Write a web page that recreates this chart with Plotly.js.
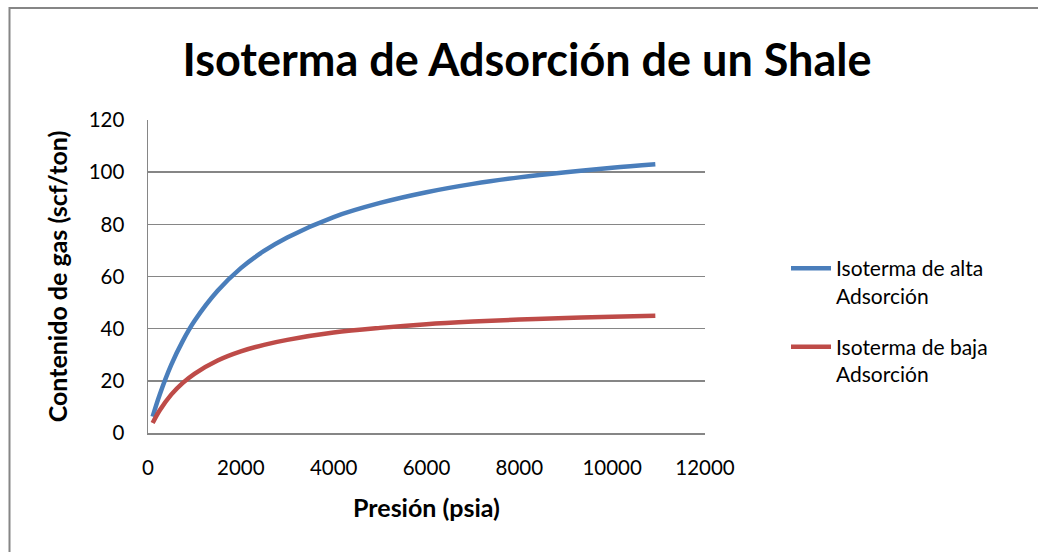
<!DOCTYPE html>
<html>
<head>
<meta charset="utf-8">
<script src="https://cdn.plot.ly/plotly-3.0.1.min.js"></script>
<style>
html,body{margin:0;padding:0;background:#fff;}
#chart{width:1038px;height:552px;}
</style>
</head>
<body>
<div id="chart"></div>
<script>
// Data
const pressure = [100, 250, 500, 750, 1000, 1500, 2000, 2500, 3000, 4000, 5000, 6000, 7000, 8000, 9000, 10000, 10930];
const altaAdsorcion = [6.3, 14.6, 26.1, 35.3, 42.9, 54.5, 63.2, 69.8, 75.0, 82.8, 88.2, 92.3, 95.5, 98.0, 100.0, 101.7, 103.0];
const bajaAdsorcion = [3.8, 8.6, 14.7, 19.2, 22.7, 27.8, 31.3, 33.8, 35.7, 38.5, 40.3, 41.7, 42.7, 43.5, 44.1, 44.6, 45.0];
const seriesNames = ["Isoterma de alta<br>Adsorción", "Isoterma de baja<br>Adsorción"];
const xTicks = [0, 2000, 4000, 6000, 8000, 10000, 12000];
const yTicks = [0, 20, 40, 60, 80, 100, 120];

const FONT = "Lato, 'Open Sans', sans-serif";

const traces = [
  {x: pressure, y: altaAdsorcion, name: seriesNames[0], type: 'scatter', mode: 'lines',
   line: {color: '#4A7EBB', width: 4.5, shape: 'spline'}, legendgroup: 'a'},
  {x: pressure, y: bajaAdsorcion, name: seriesNames[1], type: 'scatter', mode: 'lines',
   line: {color: '#BE4B48', width: 4.5, shape: 'spline'}, legendgroup: 'b'}
];

const L = 148, R = 705, T = 120, B = 433, W = 1038, H = 552;
const pw = R - L, ph = B - T;
function px(x){ return (x - L) / pw; }
function py(y){ return (B - y) / ph; }

const layout = {
  width: W, height: H,
  margin: {l: L, r: W - R, t: T, b: H - B, pad: 0},
  paper_bgcolor: '#ffffff',
  plot_bgcolor: '#ffffff',
  font: {family: FONT, color: '#000000', size: 20},
  title: {text: '<b>Isoterma de Adsorción de un Shale</b>', font: {family: FONT, size: 45, color: '#000'},
          x: 527 / W, xref: 'container', xanchor: 'center', y: 1 - 60 / H, yref: 'container', yanchor: 'middle'},
  xaxis: {
    range: [0, 12000], tickvals: xTicks, ticktext: xTicks.map(String),
    showgrid: false, zeroline: false, showline: true, linecolor: '#868686', linewidth: 1.5,
    ticks: '', ticklabelstandoff: 16, tickfont: {size: 20.5, family: FONT},
    title: {text: '<b>Presión (psia)</b>', font: {size: 25, family: FONT}, standoff: 21}
  },
  yaxis: {
    range: [0, 120], tickvals: yTicks, ticktext: yTicks.map(String),
    showgrid: true, gridcolor: '#868686', gridwidth: 1.5,
    zeroline: false, showline: true, linecolor: '#868686', linewidth: 1.5,
    ticks: '', ticklabelstandoff: 18, tickfont: {size: 20.5, family: FONT},
    title: {text: '<b>Contenido de gas (scf/ton)</b>', font: {size: 25, family: FONT}, standoff: 14}
  },
  showlegend: true,
  legend: {
    x: px(786), xanchor: 'left', y: py(248), yanchor: 'top',
    font: {size: 21, family: FONT}, bgcolor: 'rgba(0,0,0,0)', borderwidth: 0,
    tracegroupgap: 21, valign: 'top', itemwidth: 40
  },
  shapes: [
    {type: 'rect', xref: 'paper', yref: 'paper', x0: px(9.5), x1: px(1060), y0: py(8), y1: py(600),
     line: {color: '#868686', width: 2}, fillcolor: 'rgba(0,0,0,0)', layer: 'below'}
  ]
};

Plotly.newPlot('chart', traces, layout, {displayModeBar: false, staticPlot: true});
</script>
</body>
</html>
